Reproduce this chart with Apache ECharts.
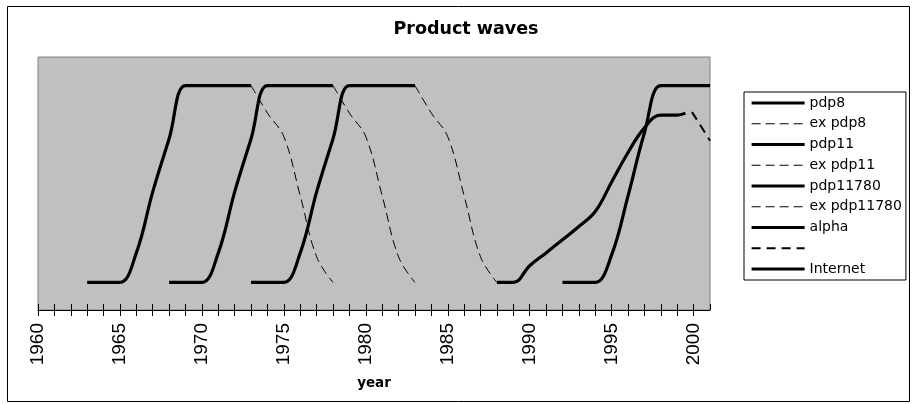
<!DOCTYPE html>
<html>
<head>
<meta charset="utf-8">
<script src="https://cdn.jsdelivr.net/npm/echarts@6/dist/echarts.min.js"></script>
<style>
  html, body { margin: 0; padding: 0; background: #fff; }
  #chart { width: 912px; height: 404px; }
</style>
</head>
<body>
<div id="chart"></div>
<script>
// values, [year, share]
const pdp8 = [[1963, 0], [1964, 0], [1965, 0], [1966, 0.15], [1967, 0.46], [1968, 0.73], [1969, 1], [1970, 1], [1971, 1], [1972, 1], [1973, 1]];
const exPdp8 = [[1973, 1], [1974, 0.86], [1975, 0.74], [1976, 0.44], [1977, 0.13], [1978, 0]];
const pdp11 = [[1968, 0], [1969, 0], [1970, 0], [1971, 0.15], [1972, 0.46], [1973, 0.73], [1974, 1], [1975, 1], [1976, 1], [1977, 1], [1978, 1]];
const exPdp11 = [[1978, 1], [1979, 0.86], [1980, 0.74], [1981, 0.44], [1982, 0.13], [1983, 0]];
const pdp11780 = [[1973, 0], [1974, 0], [1975, 0], [1976, 0.15], [1977, 0.46], [1978, 0.73], [1979, 1], [1980, 1], [1981, 1], [1982, 1], [1983, 1]];
const exPdp11780 = [[1983, 1], [1984, 0.86], [1985, 0.74], [1986, 0.44], [1987, 0.13], [1988, 0]];
const alpha = [[1988, 0], [1989, 0], [1990, 0.085], [1991, 0.15], [1992, 0.217], [1993, 0.284], [1994, 0.36], [1995, 0.51], [1996, 0.66], [1997, 0.785], [1998, 0.85], [1999, 0.85], [1999.5, 0.86]];
const exAlpha = [[1999.9, 0.865], [2000.4, 0.8], [2001, 0.72]];
const internet = [[1992, 0], [1993, 0], [1994, 0], [1995, 0.14], [1996, 0.44], [1997, 0.76], [1998, 1], [1999, 1], [2000, 1], [2001, 1]];

const seriesNames = ['pdp8', 'ex pdp8', 'pdp11', 'ex pdp11', 'pdp11780', 'ex pdp11780', 'alpha', '\u00a0', 'Internet'];
const seriesData = [pdp8, exPdp8, pdp11, exPdp11, pdp11780, exPdp11780, alpha, exAlpha, internet];

const YEAR_MIN = 1960;
const YEAR_MAX = 2001;

const solid = { color: '#000', width: 3.2, type: 'solid' };
const thinDash = { color: '#000', width: 1, type: [9, 5] };
const thickDash = { color: '#000', width: 2, type: [9, 6] };
const styles = [solid, thinDash, solid, thinDash, solid, thinDash, solid, thickDash, solid];

const chart = echarts.init(document.getElementById('chart'), null, { renderer: 'canvas' });

const series = seriesNames.map((name, i) => ({
  name,
  type: 'line',
  data: seriesData[i],
  symbol: 'none',
  smooth: 0.4,
  lineStyle: styles[i],
  itemStyle: { color: '#000' },
  silent: true,
  animation: false,
}));

const option = {
  animation: false,
  title: {
    text: 'Product waves',
    left: 461,
    top: 15,
    textAlign: 'center',
    textStyle: { fontFamily: 'DejaVu Sans', fontWeight: 'bold', fontSize: 17.5, color: '#000' },
  },
  graphic: [
    {
      type: 'rect',
      left: 5,
      top: 4,
      shape: { width: 902, height: 395 },
      style: { fill: 'none', stroke: '#000', lineWidth: 1 },
      z: -1,
    },
  ],
  legend: {
    orient: 'vertical',
    left: 744,
    top: 92,
    padding: [4, 4, 4, 6],
    itemWidth: 53,
    itemHeight: 14,
    itemGap: 6.75,
    backgroundColor: '#fff',
    borderColor: '#000',
    borderWidth: 1,
    borderRadius: 0,
    selectedMode: false,
    data: seriesNames,
    // line only, no marker in the key
    itemStyle: { color: 'rgba(0,0,0,0)', borderWidth: 0, opacity: 0 },
    lineStyle: { width: 'inherit', opacity: 1 },
    textStyle: { fontFamily: 'DejaVu Sans', fontSize: 14, color: '#000', lineHeight: 14 },
  },
  grid: {
    left: 38,
    top: 57,
    right: 202,
    bottom: 94,
    show: true,
    backgroundColor: '#c0c0c0',
    borderColor: '#808080',
    borderWidth: 1,
  },
  xAxis: [
    {
      type: 'value',
      min: YEAR_MIN,
      max: YEAR_MAX,
      interval: 1,
      name: 'year',
      nameLocation: 'middle',
      nameGap: 66,
      nameTextStyle: { fontFamily: 'DejaVu Sans', fontWeight: 'bold', fontSize: 13.5, color: '#000' },
      axisLine: { show: true, onZero: false, lineStyle: { color: '#000', width: 1 } },
      axisTick: { show: true, length: 6, lineStyle: { color: '#000' } },
      axisLabel: {
        rotate: 90,
        margin: 13,
        fontFamily: 'Liberation Sans',
        fontSize: 19,
        color: '#000',
        showMaxLabel: false,
        formatter: (v) => (v % 5 === 0 ? String(v) : ''),
      },
      splitLine: { show: false },
    },
    {
      type: 'value',
      position: 'bottom',
      min: YEAR_MIN,
      max: YEAR_MAX,
      interval: 1,
      axisLine: { show: false, onZero: false },
      axisTick: { show: true, inside: true, length: 6, lineStyle: { color: '#000' } },
      axisLabel: { show: false },
      splitLine: { show: false },
    },
  ],
  yAxis: {
    type: 'value',
    min: -0.14,
    max: 1.145,
    show: false,
    splitLine: { show: false },
  },
  series,
};

chart.setOption(option);
</script>
</body>
</html>
